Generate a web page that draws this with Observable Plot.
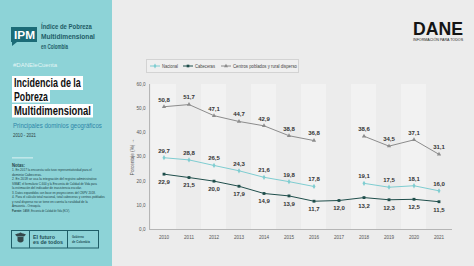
<!DOCTYPE html>
<html><head><meta charset="utf-8">
<script src="https://cdn.jsdelivr.net/npm/d3@7"></script>
<script src="https://cdn.jsdelivr.net/npm/@observablehq/plot@0.6"></script>
<style>
body{margin:0;}
#root{position:relative;width:474px;height:266px;background:#ececec;overflow:hidden;font-family:"Liberation Sans",sans-serif;}
.abs{position:absolute;}
#chart{position:absolute;left:112px;top:0;}
svg text{font-family:"Liberation Sans",sans-serif;}
</style></head>
<body><div id="root">
<svg class="abs" style="left:0;top:0" width="112" height="266" viewBox="0 0 112 266">
  <rect width="112" height="266" fill="#8dd3d7"/>
  <path d="M11 27 H37 V42 H17 L12 46 V42 H11 Z" fill="#1c6b77"/>
  <text x="14" y="39" fill="#fff" font-weight="bold" font-size="11" data-w="21">IPM</text>
  <g fill="#1f5d67" font-weight="bold" font-size="7">
    <text x="41" y="29" data-w="51">Índice de Pobreza</text>
    <text x="41" y="39" data-w="54">Multidimensional</text>
    <text x="41" y="49" data-w="27">en Colombia</text>
  </g>
  <text x="13" y="67" fill="#e3f5f5" font-size="5.6" data-w="44">#DANEleCuenta</text>
  <rect x="12" y="76" width="71" height="14" fill="#fff"/>
  <rect x="12" y="90" width="38" height="12.5" fill="#fff"/>
  <rect x="12" y="104" width="81" height="13.5" fill="#fff"/>
  <g fill="#111" font-weight="bold" font-size="13">
    <text x="14" y="87.5" data-w="67">Incidencia de la</text>
    <text x="14" y="101" data-w="34">Pobreza</text>
    <text x="14" y="115" data-w="77">Multidimensional</text>
  </g>
  <text x="13" y="128" fill="#2e86a8" font-size="7" data-w="89">Principales dominios geográficos</text>
  <text x="13" y="137.5" fill="#2b3c40" font-size="6" data-w="23">2010 - 2021</text>
  <rect x="12" y="157.5" width="21" height="0.8" fill="#f2fbfb"/>
  <g fill="#1d3f46" font-size="3.8">
    <text x="12" y="167.5" font-weight="bold" font-size="4.5" data-w="13">Notas:</text>
    <text x="12" y="171.5" data-w="80">1. En 2017 la encuesta solo tuvo representatividad para el</text>
    <text x="12" y="176" data-w="30">dominio Cabeceras.</text>
    <text x="12" y="180.5" data-w="85">2. En 2018 se usa la integración del registro administrativo</text>
    <text x="12" y="185" data-w="85">SIMAT, el formulario C-600 y la Encuesta de Calidad de Vida para</text>
    <text x="12" y="189.5" data-w="70">la estimación del indicador de inasistencia escolar.</text>
    <text x="12" y="194" data-w="84">3. Datos expandidos con base en proyecciones del CNPV 2018.</text>
    <text x="12" y="198.5" data-w="93">4. Para el cálculo total nacional, total cabeceras y centros poblados</text>
    <text x="12" y="203" data-w="76">y rural disperso no se tiene en cuenta la ruralidad de la</text>
    <text x="12" y="207.5" data-w="29">Amazonía - Orinoquía.</text>
    <text x="12" y="212" font-weight="bold" data-w="10">Fuente:</text>
    <text x="23" y="212" data-w="47">DANE, Encuesta de Calidad de Vida (ECV).</text>
  </g>
  <rect x="11.5" y="230.5" width="87" height="17.5" fill="none" stroke="#1f5d67" stroke-width="1"/>
  <line x1="29.5" x2="29.5" y1="230.5" y2="248" stroke="#1f5d67"/>
  <line x1="67.5" x2="67.5" y1="230.5" y2="248" stroke="#1f5d67"/>
  <g fill="#34474a">
    <path d="M15 234.5 Q20.5 231.5 26 234.5 L24 236.5 H17 Z"/>
    <path d="M17.5 237 H23.5 V241 Q20.5 244 17.5 241 Z"/>
    <circle cx="20.5" cy="233.5" r="1.1"/>
  </g>
  <g fill="#1f4f58" font-weight="bold" font-size="5.2">
    <text x="33" y="239" data-w="22">El futuro</text>
    <text x="33" y="244.3" data-w="30">es de todos</text>
  </g>
  <g fill="#1f4f58" font-weight="bold" font-size="3.6">
    <text x="72" y="238.5" data-w="12">Gobierno</text>
    <text x="72" y="243" data-w="18">de Colombia</text>
  </g>
</svg>
<svg class="abs" style="left:405px;top:12px" width="69" height="34" viewBox="0 0 69 34">
  <text x="8" y="23" fill="#141414" font-weight="bold" font-size="18" data-w="50">DANE</text>
  <text x="8" y="29" fill="#222" font-size="3.4" data-w="50">INFORMACIÓN PARA TODOS</text>
</svg>
<div id="chart"></div>
<svg id="legend" class="abs" style="left:146px;top:59px" width="153" height="14"></svg>
</div>
<script>
const years = [2010, 2011, 2012, 2013, 2014, 2015, 2016, 2017, 2018, 2019, 2020, 2021];
const nacional = [29.7, 28.8, 26.5, 24.3, 21.6, 19.8, 17.8, null, 19.1, 17.5, 18.1, 16.0];
const cabeceras = [22.9, 21.5, 20.0, 17.9, 14.9, 13.9, 11.7, 12.0, 13.2, 12.3, 12.5, 11.5];
const centros = [50.8, 51.7, 47.1, 44.7, 42.9, 38.8, 36.8, null, 38.6, 34.5, 37.1, 31.1];
const seriesNames = ["Nacional", "Cabeceras", "Centros poblados y rural disperso"];
const seriesColors = ["#7fcdd1", "#1f4e4b", "#8c8c8c"];
const seriesSymbols = ["diamond", "square", "triangle"];
const yTicks = [0, 10, 20, 30, 40, 50, 60];
const stripeYears = [2010, 2012, 2014, 2016, 2018, 2020];

const fmt = v => v.toFixed(1).replace(".", ",");
const seriesValues = [nacional, cabeceras, centros];
const rows = [];
seriesNames.forEach((s, k) => years.forEach((yr, i) => rows.push({year: yr, value: seriesValues[k][i], serie: s})));
const defined = rows.filter(d => d.value != null);

const plot = Plot.plot({
  width: 362, height: 266,
  marginLeft: 37, marginRight: 22, marginTop: 84, marginBottom: 37,
  style: {background: "transparent", fontFamily: "Liberation Sans", fontSize: "4.6px", color: "#555", overflow: "visible"},
  x: {type: "band", domain: years, padding: 0, tickSize: 0, tickPadding: 6, label: null, tickFormat: d => String(d)},
  y: {domain: [0, 60], ticks: yTicks, tickFormat: fmt, tickSize: 0, tickPadding: 4, label: "Porcentaje (%)", labelAnchor: "center", labelOffset: 19},
  color: {domain: seriesNames, range: seriesColors},
  symbol: {domain: seriesNames, range: seriesSymbols},
  marks: [
    Plot.barY(stripeYears, {x: d => d, y1: 0, y2: 60, fill: "#f2f2f2"}),
    Plot.ruleY([0], {stroke: "#b5b5b5", strokeWidth: 1}),
    Plot.frame({anchor: "left", stroke: "#b5b5b5"}),
    Plot.line(rows, {x: "year", y: "value", z: "serie", stroke: "serie", strokeWidth: 1}),
    Plot.dot(defined, {x: "year", y: "value", symbol: "serie", fill: "serie", r: 1.6}),
    Plot.text(defined.filter(d => d.serie !== "Cabeceras"), {x: "year", y: "value", text: d => fmt(d.value), dy: -7, fontWeight: "bold", fontSize: 6, fill: "#333"}),
    Plot.text(defined.filter(d => d.serie === "Cabeceras"), {x: "year", y: "value", text: d => fmt(d.value), dy: 8, fontWeight: "bold", fontSize: 6, fill: "#333"})
  ]
});
document.getElementById("chart").append(plot);

// legend
const leg = d3.select("#legend");
leg.append("rect").attr("x", 0.5).attr("y", 0.5).attr("width", 152).attr("height", 13).attr("fill", "#efefef").attr("stroke", "#d3d3d3");
const legX = [4, 37, 75];
const legW = [16, 20, 64];
const symFns = [d3.symbolDiamond, d3.symbolSquare, d3.symbolTriangle];
seriesNames.forEach((s, k) => {
  const g = leg.append("g").attr("transform", `translate(${legX[k]},7)`);
  g.append("line").attr("x1", 0).attr("x2", 10).attr("stroke", seriesColors[k]).attr("stroke-width", 1);
  g.append("path").attr("transform", "translate(5,0)").attr("d", d3.symbol(symFns[k], 7)()).attr("fill", seriesColors[k]);
  g.append("text").attr("x", 12).attr("y", 2).attr("font-size", 5.2).attr("fill", "#444")
    .attr("data-w", legW[k]).text(s);
});

// condense texts to their widths in the reference
document.querySelectorAll("text[data-w]").forEach(t => {
  const w = +t.getAttribute("data-w");
  const n = t.getComputedTextLength();
  const x = +t.getAttribute("x");
  if (n > 0) t.setAttribute("transform", `translate(${x},0) scale(${(w / n).toFixed(4)},1) translate(${-x},0)`);
});
</script>
</body></html>
